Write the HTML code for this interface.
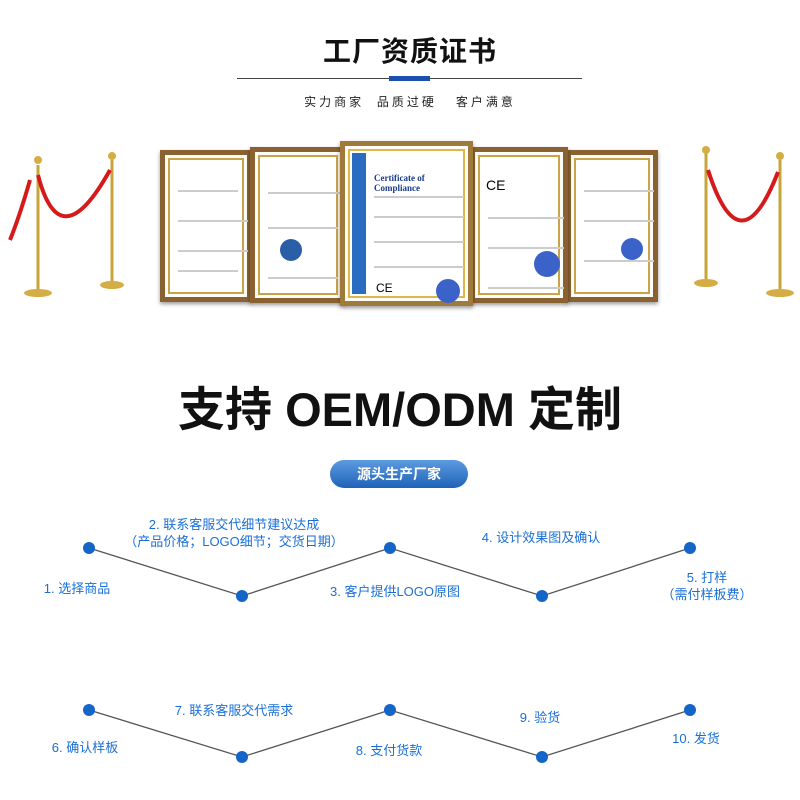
<!DOCTYPE html>
<html><head><meta charset="utf-8"><style>
html,body{margin:0;padding:0;background:#fff;}
body{width:800px;height:800px;position:relative;overflow:hidden;font-family:"Liberation Sans","Noto Sans CJK SC",sans-serif;}
.t{position:absolute;white-space:nowrap;transform:translateX(-50%);}
.lb{color:#1a6fd6;font-size:13px;line-height:17px;text-align:center;}
.cert{position:absolute;box-sizing:border-box;border:5px solid #8a6232;background:#fdfcf6;box-shadow:0 2px 4px rgba(0,0,0,.4);}
.cert .in{position:absolute;inset:3px;border:2px solid #c9a24a;background:#fff;}
.ln{position:absolute;height:2px;background:#ccc;}
</style></head><body>
<div class="t" style="left:410px;top:30px;font-size:28px;font-weight:bold;color:#111;letter-spacing:1px;">工厂资质证书</div>
<div style="position:absolute;left:237px;top:78px;width:345px;height:1px;background:#444;"></div>
<div style="position:absolute;left:389px;top:76px;width:41px;height:5px;background:#1a4fb0;"></div>
<div class="t" style="left:410px;top:93px;font-size:12px;color:#222;letter-spacing:3px;">实力商家&nbsp;&nbsp;品质过硬&nbsp;&nbsp;&nbsp;客户满意</div>

<div class="cert" style="left:160px;top:150px;width:92px;height:152px;"><div class="in">
<div class="ln" style="left:8px;top:30px;width:60px;"></div><div class="ln" style="left:8px;top:60px;width:70px;"></div><div class="ln" style="left:8px;top:90px;width:70px;"></div><div class="ln" style="left:8px;top:110px;width:60px;"></div></div></div>
<div class="cert" style="left:250px;top:147px;width:96px;height:156px;"><div class="in">
<div class="ln" style="left:8px;top:35px;width:76px;"></div><div class="ln" style="left:8px;top:70px;width:70px;"></div><div class="ln" style="left:8px;top:120px;width:70px;"></div>
<div style="position:absolute;left:20px;top:82px;width:22px;height:22px;border-radius:50%;background:#2a5fa8;"></div></div></div>
<div class="cert" style="left:566px;top:150px;width:92px;height:152px;"><div class="in">
<div class="ln" style="left:8px;top:30px;width:70px;"></div><div class="ln" style="left:8px;top:60px;width:70px;"></div><div class="ln" style="left:8px;top:100px;width:70px;"></div>
<div style="position:absolute;left:45px;top:78px;width:22px;height:22px;border-radius:50%;background:#3b62c8;"></div></div></div>
<div class="cert" style="left:470px;top:147px;width:98px;height:156px;"><div class="in">
<div style="position:absolute;left:6px;top:20px;font-size:14px;">CE</div>
<div class="ln" style="left:8px;top:60px;width:76px;"></div><div class="ln" style="left:8px;top:90px;width:76px;"></div><div class="ln" style="left:8px;top:130px;width:76px;"></div>
<div style="position:absolute;left:54px;top:94px;width:26px;height:26px;border-radius:50%;background:#3b62c8;"></div></div></div>
<div class="cert" style="left:340px;top:141px;width:133px;height:165px;border-color:#a07a3a;"><div class="in" style="border-color:#e0b84a;">
<div style="position:absolute;left:2px;top:2px;width:14px;bottom:2px;background:#2a6cc0;"></div>
<div style="position:absolute;left:24px;top:22px;font-size:9px;font-weight:bold;color:#1a3a8a;font-family:'Liberation Serif',serif;">Certificate of Compliance</div>
<div class="ln" style="left:24px;top:45px;width:90px;"></div><div class="ln" style="left:24px;top:65px;width:90px;"></div><div class="ln" style="left:24px;top:90px;width:90px;"></div><div class="ln" style="left:24px;top:115px;width:90px;"></div>
<div style="position:absolute;left:26px;top:130px;font-size:12px;">CE</div>
<div style="position:absolute;left:86px;top:128px;width:24px;height:24px;border-radius:50%;background:#3b62c8;"></div></div></div>

<svg style="position:absolute;left:0;top:0" width="800" height="320">
<g stroke="#c9a43a" stroke-width="3" fill="#d9b24a">
<line x1="38" y1="165" x2="38" y2="290"/><line x1="112" y1="160" x2="112" y2="282"/>
<line x1="706" y1="152" x2="706" y2="280"/><line x1="780" y1="160" x2="780" y2="290"/>
</g>
<g fill="#d4ad45"><ellipse cx="38" cy="293" rx="14" ry="4"/><ellipse cx="112" cy="285" rx="12" ry="4"/><ellipse cx="706" cy="283" rx="12" ry="4"/><ellipse cx="780" cy="293" rx="14" ry="4"/>
<circle cx="38" cy="160" r="4"/><circle cx="112" cy="156" r="4"/><circle cx="706" cy="150" r="4"/><circle cx="780" cy="156" r="4"/></g>
<path d="M38 175 Q60 260 110 170" stroke="#d41a1a" stroke-width="4" fill="none"/>
<path d="M30 180 Q20 215 10 240" stroke="#d41a1a" stroke-width="4" fill="none"/>
<path d="M708 170 Q740 270 778 172" stroke="#d41a1a" stroke-width="4" fill="none"/>
</svg>

<div class="t" style="left:400px;top:382px;font-size:47px;font-weight:bold;color:#111;line-height:56px;">支持 OEM/ODM 定制</div>
<div style="position:absolute;left:330px;top:460px;width:138px;height:28px;border-radius:14px;background:linear-gradient(#5d9be0,#1f62b8);color:#fff;font-size:14px;font-weight:bold;text-align:center;line-height:28px;">源头生产厂家</div>

<svg style="position:absolute;left:0;top:0" width="800" height="800">
<g stroke="#555" stroke-width="1.3" fill="none">
<polyline points="89,548 242,596 390,548 542,596 690,548"/>
<polyline points="89,710 242,757 390,710 542,757 690,710"/>
</g>
<g fill="#1565c8">
<circle cx="89" cy="548" r="6"/><circle cx="242" cy="596" r="6"/><circle cx="390" cy="548" r="6"/><circle cx="542" cy="596" r="6"/><circle cx="690" cy="548" r="6"/>
<circle cx="89" cy="710" r="6"/><circle cx="242" cy="757" r="6"/><circle cx="390" cy="710" r="6"/><circle cx="542" cy="757" r="6"/><circle cx="690" cy="710" r="6"/>
</g></svg>
<div class="t lb" style="left:77px;top:580px;">1. 选择商品</div>
<div class="t lb" style="left:234px;top:516px;">2. 联系客服交代细节建议达成<br>（产品价格；LOGO细节；交货日期）</div>
<div class="t lb" style="left:395px;top:583px;">3. 客户提供LOGO原图</div>
<div class="t lb" style="left:541px;top:529px;">4. 设计效果图及确认</div>
<div class="t lb" style="left:707px;top:569px;">5. 打样<br>（需付样板费）</div>
<div class="t lb" style="left:85px;top:739px;">6. 确认样板</div>
<div class="t lb" style="left:234px;top:702px;">7. 联系客服交代需求</div>
<div class="t lb" style="left:389px;top:742px;">8. 支付货款</div>
<div class="t lb" style="left:540px;top:709px;">9. 验货</div>
<div class="t lb" style="left:696px;top:730px;">10. 发货</div>
</body></html>
